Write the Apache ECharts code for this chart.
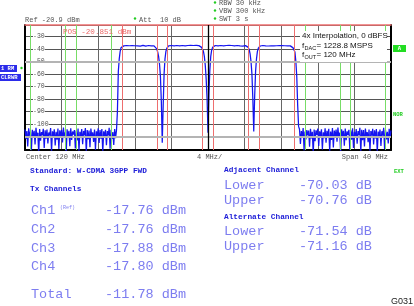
<!DOCTYPE html>
<html>
<head>
<meta charset="utf-8">
<script src="https://cdn.jsdelivr.net/npm/echarts@6/dist/echarts.min.js"></script>
<style>
  html, body { margin: 0; padding: 0; background: #fff; }
  #chart { width: 414px; height: 306px; }
</style>
</head>
<body>
<div id="chart"></div>
<script>
// spectrum sweep: 100 .. 140 MHz, one sample every 0.1 MHz
var FREQ_START = 100;
var FREQ_STEP = 0.1;

// noise floor below the band, 100.0 .. 110.0 MHz (dBm)
var noiseLow = [
  -104.5, -112, -105.8, -118, -103.6, -109.5, -106.2, -121, -104.8, -111.3,
  -105.5, -116.4, -103.2, -110.6, -107.1, -124, -104.1, -113.5, -106.6, -108.9,
  -103.9, -119.2, -105.2, -111.8, -104.6, -115.7, -106.9, -109.4, -103.4, -122.5,
  -105.9, -110.2, -104.3, -117.3, -106.4, -112.6, -103.8, -120.1, -105.1, -109.8,
  -104.7, -114.9, -102.9, -111.1, -106.8, -125, -104.4, -110.7, -105.6, -117.8,
  -103.5, -112.9, -106.1, -108.6, -104.9, -119.6, -105.4, -113.2, -103.7, -121.8,
  -106.3, -110.9, -104.2, -116.2, -105.7, -109.1, -103.3, -123.4, -104.9, -112.3,
  -105.3, -118.6, -103.8, -110.4, -106.7, -114.4, -104.5, -120.7, -105.9, -109.6,
  -103.6, -115.3, -105.0, -111.9, -104.1, -122.9, -106.0, -110.1, -104.7, -117.1,
  -105.8, -109.3, -103.1, -119.9, -104.8, -112.1, -106.5, -116.8, -104.2, -111.5,
  -105.1
];

// four W-CDMA carriers, 110.1 .. 129.9 MHz (dBm)
var passBand = [
  -90, -58, -48, -42, -39, -37.8, -37.4, -37.6, -37.2, -37.5,
  -37.3, -37.7, -37.1, -37.5, -37.8, -37.2, -37.4, -37.6, -37.0, -37.5,
  -37.7, -37.3, -37.6, -37.1, -37.4, -37.8, -37.3, -37.5, -37.2, -37.6,
  -37.4, -37.8, -37.2, -37.5, -37.3, -37.7, -37.4, -37.6, -37.2, -37.5,
  -37.6, -37.8, -38.5, -40, -42.5, -46, -52, -62, -82, -115,
  -86, -60, -48, -42, -39.5, -38.2, -37.6, -37.4, -37.7, -37.3,
  -37.5, -37.2, -37.6, -37.4, -37.8, -37.3, -37.5, -37.1, -37.6, -37.4,
  -37.7, -37.3, -37.5, -37.2, -37.6, -37.4, -37.8, -37.3, -37.5, -37.6,
  -37.2, -37.5, -37.7, -37.3, -37.6, -37.4, -37.2, -37.5, -37.8, -37.4,
  -37.6, -38, -38.8, -40, -42, -46, -53, -64, -80, -107,
  -76, -57, -46, -41, -38.8, -37.9, -37.5, -37.3, -37.7, -37.4,
  -37.6, -37.2, -37.5, -37.3, -37.7, -37.4, -37.6, -37.1, -37.5, -37.3,
  -37.7, -37.4, -37.2, -37.6, -37.5, -37.3, -37.8, -37.4, -37.6, -37.2,
  -37.5, -37.3, -37.7, -37.4, -37.6, -37.2, -37.5, -37.8, -37.3, -37.6,
  -37.4, -37.6, -38, -38.8, -40.5, -44, -50, -60, -80, -106,
  -78, -58, -48, -42, -39.5, -38.3, -37.7, -37.4, -37.6, -37.3,
  -37.5, -37.2, -37.6, -37.4, -37.3, -37.7, -37.5, -37.2, -37.6, -37.4,
  -37.3, -37.6, -37.4, -37.8, -37.5, -37.2, -37.6, -37.3, -37.5, -37.7,
  -37.4, -37.6, -37.3, -37.5, -37.7, -37.4, -37.6, -37.3, -37.5, -37.6,
  -37.8, -38.4, -39.2, -40.5, -42.5, -50, -62, -85, -102
];

// noise floor above the band, 130.0 .. 140.0 MHz (dBm)
var noiseHigh = [
  -104.3, -116.1, -105.7, -110.8, -103.4, -121.3, -106.1, -112.4, -104.9, -109.2,
  -105.4, -118.3, -103.9, -111.6, -106.3, -124.2, -104.6, -113.8, -105.2, -108.7,
  -103.7, -117.6, -105.9, -110.3, -104.4, -120.5, -106.7, -111.4, -103.5, -115.1,
  -105.6, -109.9, -104.0, -122.2, -106.2, -112.8, -103.3, -118.9, -105.3, -110.5,
  -104.6, -114.2, -103.0, -111.2, -106.9, -123.8, -104.3, -109.7, -105.5, -117.4,
  -103.8, -113.1, -106.0, -108.8, -104.7, -120.9, -105.2, -112.7, -103.6, -119.3,
  -106.4, -110.6, -104.1, -115.9, -105.8, -109.0, -103.2, -122.7, -104.8, -113.0,
  -105.0, -118.1, -103.7, -110.0, -106.6, -114.7, -104.5, -121.6, -105.7, -109.5,
  -103.9, -116.5, -105.1, -111.7, -104.2, -123.1, -106.1, -110.2, -104.6, -117.7,
  -105.9, -109.4, -103.1, -120.2, -104.9, -112.5, -106.4, -115.6, -104.0, -111.0,
  -105.2
];

// channel limits (MHz)
var txEdges = [110.58, 114.42, 115.58, 119.42, 120.58, 124.42, 125.58, 129.42];
var adjEdges = [100.58, 104.42, 105.58, 109.42, 130.58, 134.42, 135.58, 139.42];

// results table
var txNames = ['Ch1', 'Ch2', 'Ch3', 'Ch4'];
var txPower = ['-17.76', '-17.76', '-17.88', '-17.80'];
var totalPower = '-11.78';
var adjLabels = ['Lower', 'Upper'];
var adjValues = ['-70.03', '-70.76'];
var altValues = ['-71.54', '-71.16'];

var levels = noiseLow.concat(passBand, noiseHigh);
var trace = levels.map(function (v, i) {
  return [Math.round((FREQ_START + i * FREQ_STEP) * 10) / 10, v];
});

var MONO = '"Liberation Mono", "DejaVu Sans Mono", monospace';
var SANS = '"Liberation Sans", Arial, sans-serif';
var BLUE_DARK = '#2020d8';
var BLUE_LIGHT = '#7d7df0';
var GREEN = '#22cc22';

function txt(x, y, s, size, color, opts) {
  opts = opts || {};
  return {
    type: 'text',
    z: 100,
    style: {
      x: x, y: y, text: s,
      font: (opts.bold ? 'bold ' : '') + size + 'px ' + (opts.family || MONO),
      fill: color,
      align: opts.align || 'left',
      verticalAlign: 'middle'
    }
  };
}

function box(x, y, w, h, fill) {
  return { type: 'rect', z: 99, shape: { x: x, y: y, width: w, height: h }, style: { fill: fill } };
}

function dot(x, y) {
  return { type: 'circle', z: 100, shape: { cx: x, cy: y, r: 1.2 }, style: { fill: GREEN } };
}

var graphics = [
  // header
  txt(25, 20, 'Ref -20.9 dBm', 7, '#555'),
  dot(135, 18.5), txt(139, 20, 'Att  10 dB', 7, '#555'),
  dot(215, 2.5), txt(219, 3, 'RBW 30 kHz', 7, '#555'),
  dot(215, 10.5), txt(219, 11, 'VBW 300 kHz', 7, '#555'),
  dot(215, 18.5), txt(219, 19, 'SWT 3 s', 7, '#555'),
  txt(63, 32, 'POS -20.851 dBm', 7.6, '#ec6a6a'),

  // trace status labels
  box(0, 65, 17, 7, '#2b2bea'), txt(1, 68.6, '1 RM', 5.5, '#fff', { bold: true }),
  dot(21.5, 68),
  box(0, 74, 21, 7, '#2b2bea'), txt(1, 77.6, 'CLRWR', 5.5, '#fff', { bold: true }),
  box(393, 45, 13, 7, '#22dd22'), txt(399.5, 48.6, 'A', 5.5, '#fff', { bold: true, align: 'center' }),
  txt(393, 115, 'NOR', 5.5, GREEN, { bold: true }),

  // annotation
  box(300, 31, 87, 31, '#fff'),
  txt(302, 36, '4x Interpolation, 0 dBFS', 8, '#111', { family: SANS }),
  txt(302, 45.5, 'f', 8, '#111', { family: SANS }),
  txt(304.5, 48, 'DAC', 5.5, '#111', { family: SANS }),
  txt(316.5, 45.5, '= 1228.8 MSPS', 8, '#111', { family: SANS }),
  txt(302, 55, 'f', 8, '#111', { family: SANS }),
  txt(304.5, 57.5, 'OUT', 5.5, '#111', { family: SANS }),
  txt(316.5, 55, '= 120 MHz', 8, '#111', { family: SANS }),

  // footer of the plot
  txt(26, 157, 'Center 120 MHz', 7, '#555'),
  txt(197, 157, '4 MHz/', 7, '#555'),
  txt(388, 157, 'Span 40 MHz', 7, '#555', { align: 'right' }),

  // measurement results
  txt(30, 171, 'Standard: W-CDMA 3GPP FWD', 7.8, BLUE_DARK, { bold: true }),
  txt(30, 189.5, 'Tx Channels', 7.8, BLUE_DARK, { bold: true }),
  txt(224, 170.5, 'Adjacent Channel', 7.8, BLUE_DARK, { bold: true }),
  txt(224, 217, 'Alternate Channel', 7.8, BLUE_DARK, { bold: true }),
  txt(60, 207.5, '(Ref)', 5, BLUE_LIGHT),
  txt(31, 294, 'Total', 13.5, BLUE_LIGHT),
  txt(105, 294, totalPower + ' dBm', 13.5, BLUE_LIGHT),
  txt(394, 172, 'EXT', 5.5, GREEN, { bold: true }),
  txt(413, 302, 'G031', 9, '#222', { family: SANS, align: 'right' })
];

var txRows = [210.5, 229.5, 248, 266.5];
txNames.forEach(function (name, i) {
  graphics.push(txt(31, txRows[i], name, 13.5, BLUE_LIGHT));
  graphics.push(txt(105, txRows[i], txPower[i] + ' dBm', 13.5, BLUE_LIGHT));
});
adjLabels.forEach(function (name, i) {
  graphics.push(txt(224, 185 + i * 15, name, 13.5, BLUE_LIGHT));
  graphics.push(txt(299, 185 + i * 15, adjValues[i] + ' dB', 13.5, BLUE_LIGHT));
  graphics.push(txt(224, 231.7 + i * 15, name, 13.5, BLUE_LIGHT));
  graphics.push(txt(299, 231.7 + i * 15, altValues[i] + ' dB', 13.5, BLUE_LIGHT));
});

var limitLines = [];
txEdges.forEach(function (f) {
  limitLines.push({ xAxis: f, lineStyle: { color: '#ee6e6e', width: 1, type: 'solid' } });
});
adjEdges.forEach(function (f) {
  limitLines.push({ xAxis: f, lineStyle: { color: '#77dd66', width: 1, type: 'solid' } });
});
limitLines.push({ yAxis: -50, lineStyle: { color: '#b4b4b4', width: 2, type: 'solid' } });
limitLines.push({ yAxis: -110, lineStyle: { color: '#b4b4b4', width: 2, type: 'solid' } });
limitLines.push({ xAxis: 120, lineStyle: { color: '#000', width: 1.3, type: 'solid' } });

var myChart = echarts.init(document.getElementById('chart'), null, { renderer: 'canvas' });
var option = {
  animation: false,
  grid: { left: 25, right: 23, top: 25, bottom: 156 },
  xAxis: [
    {
      type: 'value', min: 100, max: 140, interval: 4, position: 'bottom',
      axisLine: { show: true, onZero: false, lineStyle: { color: '#000', width: 2 } },
      axisTick: { show: false },
      axisLabel: { show: false },
      splitLine: { show: true, lineStyle: { color: '#666', width: 1 } }
    },
    {
      type: 'value', min: 100, max: 140, position: 'top',
      axisLine: { show: true, onZero: false, lineStyle: { color: '#ee7070', width: 1.5 } },
      axisTick: { show: false },
      axisLabel: { show: false },
      splitLine: { show: false }
    }
  ],
  yAxis: [
    {
      type: 'value', min: -120.9, max: -20.9, splitNumber: 10, position: 'left',
      axisLine: { show: true, onZero: false, lineStyle: { color: '#000', width: 2 } },
      axisTick: { show: false },
      axisLabel: {
        inside: true, margin: 8, fontSize: 6.5, color: '#555', fontFamily: MONO,
        backgroundColor: '#fff',
        formatter: function (v) {
          return (Math.abs(v % 10) < 0.01 && v > -115) ? String(v) : '';
        }
      },
      splitLine: { show: true, lineStyle: { color: '#555', width: 1 } }
    },
    {
      type: 'value', min: -120.9, max: -20.9, position: 'right',
      axisLine: { show: true, onZero: false, lineStyle: { color: '#000', width: 2 } },
      axisTick: { show: false },
      axisLabel: { show: false },
      splitLine: { show: false }
    }
  ],
  series: [
    {
      name: 'limits',
      type: 'line',
      z: 1,
      data: [],
      markLine: { silent: true, symbol: 'none', animation: false, label: { show: false }, data: limitLines }
    },
    {
      name: 'trace',
      type: 'line',
      z: 3,
      data: trace,
      showSymbol: false,
      symbol: 'none',
      clip: true,
      sampling: null,
      lineStyle: { color: '#1414f0', width: 1.25 }
    }
  ],
  graphic: graphics
};

myChart.setOption(option);
</script>
</body>
</html>
